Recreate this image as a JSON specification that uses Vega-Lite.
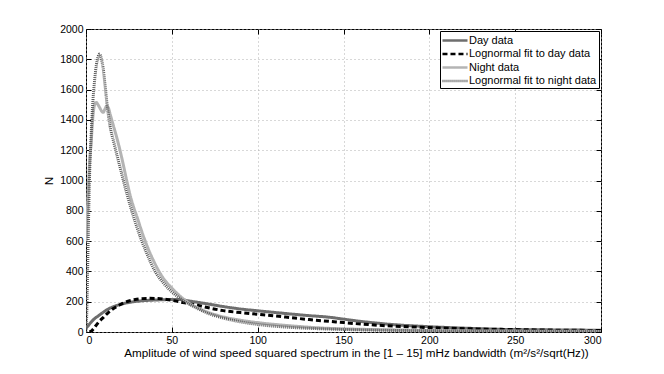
{
  "$schema": "https://vega.github.io/schema/vega-lite/v6.json",
  "autosize": {"type": "none"},
  "padding": {"left": 86, "top": 29, "right": 63, "bottom": 42},
  "width": 515,
  "height": 303,
  "background": "white",
  "config": {
    "font": "Liberation Sans",
    "view": {"stroke": "black", "strokeWidth": 1},
    "axis": {
      "labelFont": "Liberation Sans", "titleFont": "Liberation Sans",
      "labelFontSize": 10.5, "titleFontSize": 11.7, "titleFontWeight": "normal",
      "labelColor": "black", "titleColor": "black",
      "domainColor": "black", "tickColor": "black",
      "gridColor": "#b0b0b0", "gridDash": [1, 3], "gridWidth": 1
    }
  },
  "datasets": {
    "curves": [
      {"series": "Day data", "x": 0, "y": 25}, {"series": "Day data", "x": 1, "y": 38}, {"series": "Day data", "x": 3, "y": 65}, {"series": "Day data", "x": 5, "y": 88}, {"series": "Day data", "x": 7, "y": 105}, {"series": "Day data", "x": 10, "y": 130}, {"series": "Day data", "x": 13, "y": 152}, {"series": "Day data", "x": 16, "y": 167}, {"series": "Day data", "x": 20, "y": 182}, {"series": "Day data", "x": 25, "y": 195}, {"series": "Day data", "x": 30, "y": 203}, {"series": "Day data", "x": 35, "y": 208}, {"series": "Day data", "x": 40, "y": 211}, {"series": "Day data", "x": 45, "y": 213}, {"series": "Day data", "x": 50, "y": 215}, {"series": "Day data", "x": 55, "y": 214}, {"series": "Day data", "x": 60, "y": 205}, {"series": "Day data", "x": 65, "y": 196}, {"series": "Day data", "x": 70, "y": 187}, {"series": "Day data", "x": 80, "y": 168}, {"series": "Day data", "x": 90, "y": 152}, {"series": "Day data", "x": 100, "y": 140}, {"series": "Day data", "x": 110, "y": 129}, {"series": "Day data", "x": 120, "y": 118}, {"series": "Day data", "x": 130, "y": 108}, {"series": "Day data", "x": 142, "y": 97}, {"series": "Day data", "x": 150, "y": 85}, {"series": "Day data", "x": 160, "y": 70}, {"series": "Day data", "x": 171, "y": 57}, {"series": "Day data", "x": 180, "y": 48}, {"series": "Day data", "x": 190, "y": 41}, {"series": "Day data", "x": 200, "y": 35}, {"series": "Day data", "x": 210, "y": 30}, {"series": "Day data", "x": 224, "y": 24}, {"series": "Day data", "x": 240, "y": 18}, {"series": "Day data", "x": 260, "y": 15}, {"series": "Day data", "x": 280, "y": 13}, {"series": "Day data", "x": 300, "y": 12},
      {"series": "Lognormal fit to day data", "x": 2, "y": 0}, {"series": "Lognormal fit to day data", "x": 3, "y": 5}, {"series": "Lognormal fit to day data", "x": 5, "y": 30}, {"series": "Lognormal fit to day data", "x": 7, "y": 60}, {"series": "Lognormal fit to day data", "x": 10, "y": 95}, {"series": "Lognormal fit to day data", "x": 13, "y": 128}, {"series": "Lognormal fit to day data", "x": 16, "y": 155}, {"series": "Lognormal fit to day data", "x": 19, "y": 175}, {"series": "Lognormal fit to day data", "x": 22, "y": 193}, {"series": "Lognormal fit to day data", "x": 25, "y": 205}, {"series": "Lognormal fit to day data", "x": 28, "y": 213}, {"series": "Lognormal fit to day data", "x": 32, "y": 220}, {"series": "Lognormal fit to day data", "x": 37, "y": 222}, {"series": "Lognormal fit to day data", "x": 42, "y": 221}, {"series": "Lognormal fit to day data", "x": 47, "y": 215}, {"series": "Lognormal fit to day data", "x": 51, "y": 207}, {"series": "Lognormal fit to day data", "x": 55, "y": 198}, {"series": "Lognormal fit to day data", "x": 59, "y": 189}, {"series": "Lognormal fit to day data", "x": 65, "y": 176}, {"series": "Lognormal fit to day data", "x": 70, "y": 163}, {"series": "Lognormal fit to day data", "x": 80, "y": 141}, {"series": "Lognormal fit to day data", "x": 90, "y": 128}, {"series": "Lognormal fit to day data", "x": 100, "y": 117}, {"series": "Lognormal fit to day data", "x": 110, "y": 106}, {"series": "Lognormal fit to day data", "x": 120, "y": 94}, {"series": "Lognormal fit to day data", "x": 130, "y": 82}, {"series": "Lognormal fit to day data", "x": 142, "y": 70}, {"series": "Lognormal fit to day data", "x": 150, "y": 62}, {"series": "Lognormal fit to day data", "x": 171, "y": 44}, {"series": "Lognormal fit to day data", "x": 185, "y": 36}, {"series": "Lognormal fit to day data", "x": 200, "y": 29}, {"series": "Lognormal fit to day data", "x": 224, "y": 21}, {"series": "Lognormal fit to day data", "x": 250, "y": 16}, {"series": "Lognormal fit to day data", "x": 275, "y": 12}, {"series": "Lognormal fit to day data", "x": 300, "y": 10},
      {"series": "Night data", "x": 0, "y": 600}, {"series": "Night data", "x": 1, "y": 850}, {"series": "Night data", "x": 2, "y": 1100}, {"series": "Night data", "x": 3, "y": 1250}, {"series": "Night data", "x": 4, "y": 1420}, {"series": "Night data", "x": 5, "y": 1500}, {"series": "Night data", "x": 6, "y": 1515}, {"series": "Night data", "x": 7, "y": 1500}, {"series": "Night data", "x": 8, "y": 1480}, {"series": "Night data", "x": 9, "y": 1460}, {"series": "Night data", "x": 10, "y": 1450}, {"series": "Night data", "x": 11, "y": 1470}, {"series": "Night data", "x": 12, "y": 1490}, {"series": "Night data", "x": 13, "y": 1480}, {"series": "Night data", "x": 14, "y": 1440}, {"series": "Night data", "x": 16, "y": 1360}, {"series": "Night data", "x": 18, "y": 1280}, {"series": "Night data", "x": 20, "y": 1190}, {"series": "Night data", "x": 22, "y": 1090}, {"series": "Night data", "x": 24, "y": 985}, {"series": "Night data", "x": 26, "y": 890}, {"series": "Night data", "x": 28, "y": 815}, {"series": "Night data", "x": 30, "y": 750}, {"series": "Night data", "x": 32, "y": 680}, {"series": "Night data", "x": 35, "y": 585}, {"series": "Night data", "x": 40, "y": 455}, {"series": "Night data", "x": 45, "y": 355}, {"series": "Night data", "x": 50, "y": 290}, {"series": "Night data", "x": 55, "y": 235}, {"series": "Night data", "x": 60, "y": 190}, {"series": "Night data", "x": 65, "y": 160}, {"series": "Night data", "x": 70, "y": 135}, {"series": "Night data", "x": 80, "y": 100}, {"series": "Night data", "x": 90, "y": 78}, {"series": "Night data", "x": 100, "y": 62}, {"series": "Night data", "x": 110, "y": 50}, {"series": "Night data", "x": 120, "y": 40}, {"series": "Night data", "x": 140, "y": 25}, {"series": "Night data", "x": 160, "y": 18}, {"series": "Night data", "x": 180, "y": 14}, {"series": "Night data", "x": 200, "y": 10}, {"series": "Night data", "x": 250, "y": 6}, {"series": "Night data", "x": 300, "y": 4},
      {"series": "Lognormal fit to night data", "x": 0, "y": 0}, {"series": "Lognormal fit to night data", "x": 0.5, "y": 150}, {"series": "Lognormal fit to night data", "x": 1, "y": 450}, {"series": "Lognormal fit to night data", "x": 1.5, "y": 750}, {"series": "Lognormal fit to night data", "x": 2, "y": 1000}, {"series": "Lognormal fit to night data", "x": 3, "y": 1300}, {"series": "Lognormal fit to night data", "x": 4, "y": 1520}, {"series": "Lognormal fit to night data", "x": 5, "y": 1660}, {"series": "Lognormal fit to night data", "x": 6, "y": 1760}, {"series": "Lognormal fit to night data", "x": 7, "y": 1815}, {"series": "Lognormal fit to night data", "x": 8, "y": 1835}, {"series": "Lognormal fit to night data", "x": 9, "y": 1800}, {"series": "Lognormal fit to night data", "x": 10, "y": 1740}, {"series": "Lognormal fit to night data", "x": 11, "y": 1640}, {"series": "Lognormal fit to night data", "x": 12, "y": 1530}, {"series": "Lognormal fit to night data", "x": 14, "y": 1360}, {"series": "Lognormal fit to night data", "x": 16, "y": 1260}, {"series": "Lognormal fit to night data", "x": 18, "y": 1170}, {"series": "Lognormal fit to night data", "x": 20, "y": 1080}, {"series": "Lognormal fit to night data", "x": 22, "y": 990}, {"series": "Lognormal fit to night data", "x": 24, "y": 905}, {"series": "Lognormal fit to night data", "x": 26, "y": 825}, {"series": "Lognormal fit to night data", "x": 28, "y": 750}, {"series": "Lognormal fit to night data", "x": 30, "y": 680}, {"series": "Lognormal fit to night data", "x": 32, "y": 615}, {"series": "Lognormal fit to night data", "x": 35, "y": 530}, {"series": "Lognormal fit to night data", "x": 40, "y": 405}, {"series": "Lognormal fit to night data", "x": 45, "y": 325}, {"series": "Lognormal fit to night data", "x": 50, "y": 265}, {"series": "Lognormal fit to night data", "x": 55, "y": 220}, {"series": "Lognormal fit to night data", "x": 60, "y": 185}, {"series": "Lognormal fit to night data", "x": 65, "y": 155}, {"series": "Lognormal fit to night data", "x": 70, "y": 128}, {"series": "Lognormal fit to night data", "x": 80, "y": 92}, {"series": "Lognormal fit to night data", "x": 90, "y": 67}, {"series": "Lognormal fit to night data", "x": 100, "y": 50}, {"series": "Lognormal fit to night data", "x": 110, "y": 38}, {"series": "Lognormal fit to night data", "x": 120, "y": 30}, {"series": "Lognormal fit to night data", "x": 140, "y": 20}, {"series": "Lognormal fit to night data", "x": 160, "y": 14}, {"series": "Lognormal fit to night data", "x": 180, "y": 10}, {"series": "Lognormal fit to night data", "x": 200, "y": 8}, {"series": "Lognormal fit to night data", "x": 250, "y": 5}, {"series": "Lognormal fit to night data", "x": 300, "y": 3}
    ]
  },
  "data": {"name": "curves"},
  "layer": [
    {
      "mark": {"type": "line", "strokeWidth": 3, "interpolate": "monotone", "clip": true},
      "encoding": {
        "x": {"field": "x", "type": "quantitative", "scale": {"domain": [0, 300], "nice": false},
          "axis": {"values": [0, 50, 100, 150, 200, 250, 300], "tickSize": -5, "labelPadding": 8, "grid": true, "domain": false,
            "title": "Amplitude of wind speed squared spectrum in the [1 – 15] mHz bandwidth (m²/s²/sqrt(Hz))", "titlePadding": 2, "titleX": 270, "titleAlign": "center"}},
        "y": {"field": "y", "type": "quantitative", "scale": {"domain": [0, 2000], "nice": false},
          "axis": {"values": [0, 200, 400, 600, 800, 1000, 1200, 1400, 1600, 1800, 2000], "format": "d", "tickSize": -5, "labelPadding": 8, "grid": true, "domain": false,
            "title": "N", "titlePadding": 5}},
        "color": {"field": "series", "type": "nominal",
          "scale": {"domain": ["Day data", "Lognormal fit to day data", "Night data", "Lognormal fit to night data"],
                    "range": ["#6e6e6e", "#000000", "#b4b4b4", "#5a5a5a"]},
          "legend": {"title": null, "orient": "top-right", "offset": 2, "strokeColor": "black", "fillColor": "white",
            "padding": 2, "rowPadding": 0.5, "symbolType": "M-1.17,0L3,0", "symbolSize": 144, "symbolStrokeWidth": 2.5,
            "labelFontSize": 11, "labelFont": "Liberation Sans", "labelColor": "black", "labelOffset": 12, "cornerRadius": 0}},
        "strokeDash": {"field": "series", "type": "nominal",
          "scale": {"domain": ["Day data", "Lognormal fit to day data", "Night data", "Lognormal fit to night data"],
                    "range": [[1, 0], [5, 3], [1, 0], [1, 1]]},
          "legend": {"title": null}},
        "order": {"field": "x", "type": "quantitative"}
      }
    },
    {
      "mark": {"type": "rule", "opacity": 0},
      "encoding": {
        "x": {"field": "x", "type": "quantitative", "aggregate": "min",
          "axis": {"orient": "top", "values": [0, 50, 100, 150, 200, 250, 300], "labels": false, "tickSize": -5, "title": null, "grid": false, "domain": false}},
        "y": {"field": "y", "type": "quantitative", "aggregate": "min",
          "axis": {"orient": "right", "values": [0, 200, 400, 600, 800, 1000, 1200, 1400, 1600, 1800, 2000], "labels": false, "tickSize": -5, "title": null, "grid": false, "domain": false}}
      }
    }
  ],
  "resolve": {"axis": {"x": "independent", "y": "independent"}}
}
